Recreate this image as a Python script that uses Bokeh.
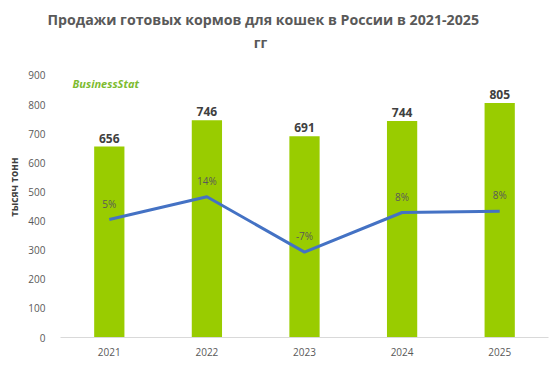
from bokeh.plotting import figure
from bokeh.models import ColumnDataSource, Range1d, FactorRange, Label, Title, LabelSet
from bokeh.core.properties import value
from bokeh.embed import file_html
from bokeh.resources import INLINE

years = ["2021", "2022", "2023", "2024", "2025"]
sales = [656, 746, 691, 744, 805]
growth = [5.0, 13.7, -7.4, 7.7, 8.2]
growth_labels = ["5%", "14%", "-7%", "8%", "8%"]
sales_labels = ["656", "746", "691", "744", "805"]
y_ticks = [0, 100, 200, 300, 400, 500, 600, 700, 800, 900]

FONT = "Open Sans"
GRAY = "#595959"

src = ColumnDataSource(dict(x=years, top=sales, lab=sales_labels, g=growth, glab=growth_labels))

# frame extends above the 900 tick so the title's second line and the logo sit inside it
p = figure(frame_width=488, frame_height=306, x_range=FactorRange(*years), y_range=Range1d(0, 1051),
           output_backend="svg", toolbar_location=None,
           min_border_left=60, min_border_right=2, min_border_top=31, min_border_bottom=16)
p.extra_y_ranges = {"pct": Range1d(-40, 60 + 100 * 151 / 900)}
p.outline_line_color = None
p.background_fill_color = "white"
p.border_fill_color = "white"
p.title = Title(text="Продажи готовых кормов для  кошек в России в 2021-2025", align="left",
                offset=-13, standoff=6, text_font=FONT, text_font_size="14.2px",
                text_font_style="bold", text_color=GRAY)

p.add_layout(Label(x=200, y=295, x_units="screen", y_units="screen", text="гг",
                   text_align="center", text_baseline="middle", text_font=FONT,
                   text_font_size="14.2px", text_font_style="bold", text_color=GRAY))

p.vbar(x="x", top="top", width=0.31, source=src, fill_color="#99CC00", line_color=None)
p.line(x="x", y="g", source=src, y_range_name="pct", line_color="#4472C4", line_width=3)

p.add_layout(LabelSet(x="x", y="top", text="lab", source=src, text_align="center",
                      text_baseline="bottom", y_offset=4, text_font=value(FONT),
                      text_font_size=value("12px"), text_font_style="bold", text_color="#404040"))
p.add_layout(LabelSet(x="x", y="g", text="glab", source=src, y_range_name="pct",
                      text_align="center", text_baseline="bottom", y_offset=9,
                      text_font=value(FONT), text_font_size=value("10px"), text_color=GRAY))

p.xgrid.grid_line_color = None
p.ygrid.grid_line_color = None

p.yaxis.ticker = y_ticks
p.yaxis.axis_line_color = None
p.yaxis.major_tick_line_color = None
p.yaxis.minor_tick_line_color = None
p.yaxis.major_label_text_font = FONT
p.yaxis.major_label_text_font_size = "10px"
p.yaxis.major_label_text_color = GRAY
p.yaxis.major_label_standoff = 9
p.yaxis.axis_label = "тысяч   тонн"
p.yaxis.axis_label_text_font = FONT
p.yaxis.axis_label_text_font_size = "10px"
p.yaxis.axis_label_text_font_style = "bold"
p.yaxis.axis_label_text_color = "#404040"
p.yaxis.axis_label_standoff = 4

p.xaxis.axis_line_color = "#D9D9D9"
p.xaxis.axis_line_width = 1
p.xaxis.major_tick_line_color = None
p.xaxis.minor_tick_line_color = None
p.xaxis.major_label_text_font = FONT
p.xaxis.major_label_text_font_size = "10px"
p.xaxis.major_label_text_color = GRAY
p.xaxis.major_label_standoff = 4

p.add_layout(Label(x=12, y=247, x_units="screen", y_units="screen", text="BusinessStat",
                   text_font=FONT, text_font_size="11px", text_font_style="bold italic",
                   text_color="#7DBB2F", text_baseline="bottom"))

open("out.html", "w").write(file_html(p, INLINE))
